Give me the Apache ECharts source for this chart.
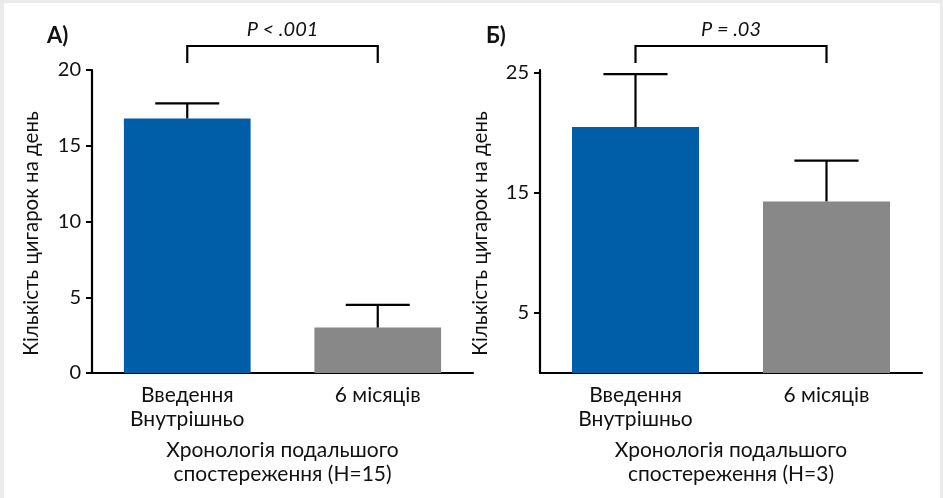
<!DOCTYPE html>
<html>
<head>
<meta charset="utf-8">
<script src="https://cdn.jsdelivr.net/npm/echarts@6/dist/echarts.min.js"></script>
<style>
html,body{margin:0;padding:0;background:#ebebeb;width:943px;height:498px;overflow:hidden;}
#panel{position:absolute;left:4px;top:3px;width:936px;height:495px;background:#ffffff;}
#chart{position:absolute;left:0;top:0;width:943px;height:498px;}
</style>
</head>
<body>
<div id="panel"></div>
<div id="chart"></div>
<script>
// ---- data ----
const categories = ['Введення\nВнутрішньо', '6 місяців'];
const meansA = [16.8, 3.0];
const upperA = [17.8, 4.5];
const meansB = [20.5, 14.3];
const upperB = [24.9, 17.7];
const ticksA = [0, 5, 10, 15, 20];
const ticksB = [5, 15, 25];
const panelLabels = ['А)', 'Б)'];
const pValues = ['P < .001', 'P = .03'];
const yAxisName = 'Кількість цигарок на день';
const xAxisNames = ['Хронологія подальшого\nспостереження (Н=15)', 'Хронологія подальшого\nспостереження (Н=3)'];
const barColors = ['#005DA8', '#888888'];

const FONT = 'Lato';
const TXT = '#111111';
const FS = 21;

function barData(vals) {
  return vals.map((v, i) => ({ value: v, itemStyle: { color: barColors[i] } }));
}
function errData(means, uppers) {
  return means.map((m, i) => [i, m, uppers[i]]);
}
function errRender(params, api) {
  const base = api.coord([api.value(0), api.value(1)]);
  const top = api.coord([api.value(0), api.value(2)]);
  const half = api.size([1, 0])[0] * 0.168;
  const st = { stroke: '#000', lineWidth: 2.2, fill: null };
  return {
    type: 'group',
    children: [
      { type: 'line', shape: { x1: base[0], y1: base[1], x2: top[0], y2: top[1] }, style: st },
      { type: 'line', shape: { x1: top[0] - half, y1: top[1], x2: top[0] + half, y2: top[1] }, style: st }
    ]
  };
}
function bracketRender(pText) {
  return function (params, api) {
    const cs = params.coordSys;
    const x0 = api.coord([0, 0])[0];
    const x1 = api.coord([1, 0])[0];
    const yTop = cs.y - 24;
    const yFoot = cs.y - 7;
    const st = { stroke: '#000', lineWidth: 2.2, fill: null };
    return {
      type: 'group',
      children: [
        { type: 'polyline', shape: { points: [[x0, yFoot], [x0, yTop], [x1, yTop], [x1, yFoot]] }, style: st },
        { type: 'text', x: (x0 + x1) / 2, y: cs.y - 40,
          style: { text: pText, fill: TXT, font: 'italic 20px ' + FONT, align: 'center', verticalAlign: 'middle' } }
      ]
    };
  };
}

const axisLineStyle = { show: true, lineStyle: { color: '#000', width: 2.2 } };

const chart = echarts.init(document.getElementById('chart'), null, { renderer: 'canvas' });
chart.setOption({
  backgroundColor: 'transparent',
  animation: false,
  textStyle: { fontFamily: FONT },
  title: [
    { text: panelLabels[0], left: 47, top: 25, padding: 0, textStyle: { fontFamily: FONT, fontSize: 22, fontWeight: 'bold', color: TXT } },
    { text: panelLabels[1], left: 486, top: 25, padding: 0, textStyle: { fontFamily: FONT, fontSize: 22, fontWeight: 'bold', color: TXT } }
  ],
  grid: [
    { left: 92, top: 70, width: 381, height: 303 },
    { left: 540, top: 70, width: 382, height: 303 }
  ],
  xAxis: [0, 1].map(g => ({
    type: 'category', gridIndex: g, data: categories,
    axisLine: axisLineStyle, axisTick: { show: false },
    axisLabel: { interval: 0, fontFamily: FONT, fontSize: FS, lineHeight: 24, color: TXT, margin: 10 },
    name: xAxisNames[g], nameLocation: 'middle', nameGap: 65,
    nameTextStyle: { fontFamily: FONT, fontSize: FS, lineHeight: 24, color: TXT }
  })),
  yAxis: [
    {
      type: 'value', gridIndex: 0, min: 0, max: 20, interval: 5,
      axisLine: axisLineStyle, splitLine: { show: false },
      axisTick: { show: true, length: 6, lineStyle: { color: '#000', width: 2 } },
      axisLabel: { fontFamily: FONT, fontSize: 20, color: TXT, margin: 11 },
      name: yAxisName, nameLocation: 'middle', nameGap: 50, nameRotate: 90,
      nameTextStyle: { fontFamily: FONT, fontSize: 20.5, color: TXT, padding: [0, 24, 0, 0] }
    },
    {
      type: 'value', gridIndex: 1, min: 0, max: 25.25,
      axisLine: axisLineStyle, splitLine: { show: false },
      axisTick: { show: true, length: 6, customValues: ticksB, lineStyle: { color: '#000', width: 2 } },
      axisLabel: { fontFamily: FONT, fontSize: 20, color: TXT, margin: 11, customValues: ticksB },
      name: yAxisName, nameLocation: 'middle', nameGap: 49, nameRotate: 90,
      nameTextStyle: { fontFamily: FONT, fontSize: 20.5, color: TXT, padding: [0, 24, 0, 0] }
    }
  ],
  series: [
    { type: 'bar', xAxisIndex: 0, yAxisIndex: 0, data: barData(meansA), barWidth: '66.5%', z: 2 },
    { type: 'bar', xAxisIndex: 1, yAxisIndex: 1, data: barData(meansB), barWidth: '66.5%', z: 2 },
    { type: 'custom', xAxisIndex: 0, yAxisIndex: 0, data: errData(meansA, upperA), renderItem: errRender, z: 3, clip: false },
    { type: 'custom', xAxisIndex: 1, yAxisIndex: 1, data: errData(meansB, upperB), renderItem: errRender, z: 3, clip: false },
    { type: 'custom', xAxisIndex: 0, yAxisIndex: 0, data: [[0, 0]], renderItem: bracketRender(pValues[0]), z: 3, clip: false },
    { type: 'custom', xAxisIndex: 1, yAxisIndex: 1, data: [[0, 0]], renderItem: bracketRender(pValues[1]), z: 3, clip: false }
  ]
});
</script>
</body>
</html>
